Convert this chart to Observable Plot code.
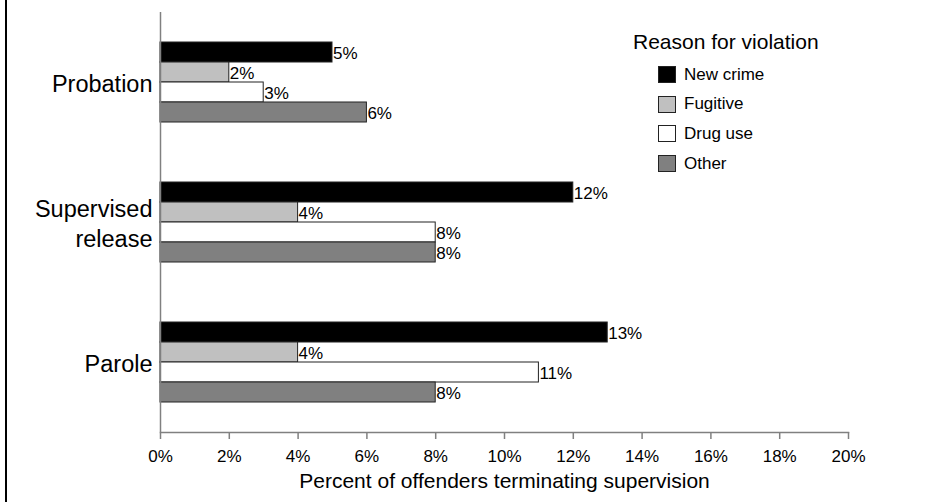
<!DOCTYPE html>
<html>
<head>
<meta charset="utf-8">
<script src="https://cdn.jsdelivr.net/npm/d3@7"></script>
<script src="https://cdn.jsdelivr.net/npm/@observablehq/plot@0.6"></script>
<style>
  html, body { margin: 0; padding: 0; background: #fff; }
  #wrap { position: relative; width: 935px; height: 502px; font-family: "Liberation Sans", Arial, sans-serif; overflow: hidden; }
  #border { position: absolute; left: 5px; top: 0; width: 2px; height: 502px; background: #000; }
  #legend { position: absolute; left: 633px; top: 30px; color: #000; }
  #legend .title { font-size: 21px; line-height: 24px; margin-bottom: 6px; }
  #legend .item { display: flex; align-items: center; height: 29.6px; margin-left: 25px; font-size: 17px; }
  #legend .sw { width: 16px; height: 15px; border: 1px solid #222; margin-right: 8px; }
  svg { display: block; }
</style>
</head>
<body>
<div id="wrap">
  <div id="chart"></div>
  <div id="border"></div>
  <div id="legend"></div>
</div>
<script>
// Data
const groups = ["Probation", "Supervised release", "Parole"];
const groupLabels = ["Probation", "Supervised\nrelease", "Parole"];
const reasons = ["New crime", "Fugitive", "Drug use", "Other"];
const colors = ["#000000", "#c0c0c0", "#ffffff", "#808080"];
const newCrime = [5, 12, 13];
const fugitive = [2, 4, 4];
const drugUse = [3, 8, 11];
const other = [6, 8, 8];
const xTicks = [0, 2, 4, 6, 8, 10, 12, 14, 16, 18, 20];
const xTitle = "Percent of offenders terminating supervision";

const series = [newCrime, fugitive, drugUse, other];
const rows = [];
groups.forEach((g, gi) => {
  reasons.forEach((r, ri) => rows.push({group: g, reason: r, value: series[ri][gi]}));
});
const labelRows = groups.map((g, i) => ({group: g, label: groupLabels[i]}));

const chart = Plot.plot({
  width: 935,
  height: 502,
  marginLeft: 160,
  marginRight: 87,
  marginTop: 12,
  marginBottom: 70,
  style: {fontFamily: '"Liberation Sans", Arial, sans-serif', background: "transparent", color: "#000"},
  x: {domain: [0, 20], axis: null},
  y: {domain: reasons, padding: 0, insetTop: 29, insetBottom: 29, axis: null},
  fy: {domain: groups, padding: 0, axis: null},
  color: {domain: reasons, range: colors},
  marks: [
    Plot.barX(rows, {x: "value", y: "reason", fy: "group", fill: "reason", stroke: "#222", strokeWidth: 1}),
    Plot.text(rows, {x: "value", y: "reason", fy: "group", text: d => d.value + "%", textAnchor: "start", dx: 0.5, dy: 1.5, fontSize: 17, fill: "#000"}),
    Plot.text(labelRows, {fy: "group", text: "label", frameAnchor: "left", textAnchor: "end", dx: -8, fontSize: 23.5, lineHeight: 1.25, fill: "#000"}),
    Plot.ruleX([0], {stroke: "#808080", strokeWidth: 1.5}),
    Plot.frame({anchor: "bottom", stroke: "#808080", strokeWidth: 1.5, facetAnchor: "bottom"}),
    Plot.axisX(xTicks, {
      tickSize: 7, tickPadding: 10, stroke: "#808080", strokeWidth: 1.5,
      tickFormat: d => d + "%", fontSize: 17, label: null
    }),
    Plot.text([xTitle], {text: d => d, frameAnchor: "bottom", dy: 55, fontSize: 21, fill: "#000", facetAnchor: "bottom"})
  ]
});
document.getElementById("chart").appendChild(chart);

// Legend
const legend = document.getElementById("legend");
const t = document.createElement("div");
t.className = "title";
t.textContent = "Reason for violation";
legend.appendChild(t);
reasons.forEach((r, i) => {
  const item = document.createElement("div");
  item.className = "item";
  const sw = document.createElement("span");
  sw.className = "sw";
  sw.style.background = colors[i];
  const lab = document.createElement("span");
  lab.textContent = r;
  item.appendChild(sw);
  item.appendChild(lab);
  legend.appendChild(item);
});
</script>
</body>
</html>
